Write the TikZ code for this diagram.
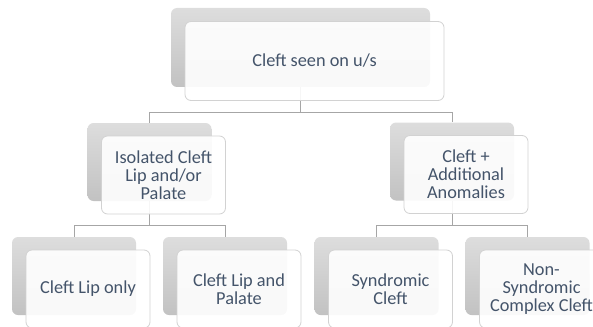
\documentclass[tikz,border=0pt]{standalone}
\usepackage{fontspec}
\setmainfont{Carlito}
\definecolor{txt}{HTML}{44546A}
\definecolor{edge}{HTML}{D2D2D2}
\definecolor{wire}{HTML}{A6A6A6}
\definecolor{shtop}{HTML}{DDDDDD}
\definecolor{shbot}{HTML}{C2C2C2}
\tikzset{
  backbox/.style={rectangle, rounded corners=6pt, minimum width=124pt, minimum height=78pt,
    inner sep=0pt, top color=shtop, bottom color=shbot, draw=none},
  topback/.style={backbox, minimum width=259pt, minimum height=79pt},
  frontbox/.style={rectangle, rounded corners=6pt, minimum width=124pt, minimum height=78pt,
    inner sep=0pt, draw=edge, line width=0.8pt, fill=white, fill opacity=0.9, text opacity=1,
    text=txt, align=center, font=\fontsize{18.3}{17.8}\selectfont},
  topfront/.style={frontbox, minimum width=259pt, minimum height=79pt},
  wirestyle/.style={draw=wire, line width=0.9pt},
}
\begin{document}
\begin{tikzpicture}[x=1pt, y=-1pt]
\useasboundingbox (0,0) rectangle (593,326);
\clip (0,0) rectangle (593,326);
% shadow plates
\node[topback] (tB) at (300.5,47.5) {};
\node[backbox] (lB) at (149.5,162) {};
\node[backbox] (rB) at (452,161.5) {};
\node[backbox] (llB) at (74,276) {};
\node[backbox] (lrB) at (225,276) {};
\node[backbox] (rlB) at (376.5,276) {};
\node[backbox] (rrB) at (527.5,276) {};
% bus levels
\coordinate (busA) at (0,112);
\coordinate (busL) at (0,225);
\coordinate (busR) at (0,225);
% connectors
\draw[wirestyle] (tB.south) -- (tB.south |- busA) -| (lB.north);
\draw[wirestyle] (tB.south |- busA) -| (rB.north);
\draw[wirestyle] (lB.south) -- (lB.south |- busL) -| (llB.north);
\draw[wirestyle] (lB.south |- busL) -| (lrB.north);
\draw[wirestyle] (rB.south) -- (rB.south |- busR) -| (rlB.north);
\draw[wirestyle] (rB.south |- busR) -| (rrB.north);
% text cards
\node[topfront] (t) at ([shift={(14,13.5)}]tB.center) {Cleft seen on u/s};
\node[frontbox] (l) at ([shift={(14,13)}]lB.center) {Isolated Cleft\\Lip and/or\\Palate};
\node[frontbox] (r) at ([shift={(14,13)}]rB.center) {Cleft +\\Additional\\Anomalies};
\node[frontbox] (ll) at ([shift={(14,13)}]llB.center) {Cleft Lip only};
\node[frontbox] (lr) at ([shift={(14,13)}]lrB.center) {Cleft Lip and\\Palate};
\node[frontbox] (rl) at ([shift={(14,13)}]rlB.center) {Syndromic\\Cleft};
\node[frontbox] (rr) at ([shift={(14,13)}]rrB.center) {Non-\\Syndromic\\Complex Cleft};
\end{tikzpicture}
\end{document}
